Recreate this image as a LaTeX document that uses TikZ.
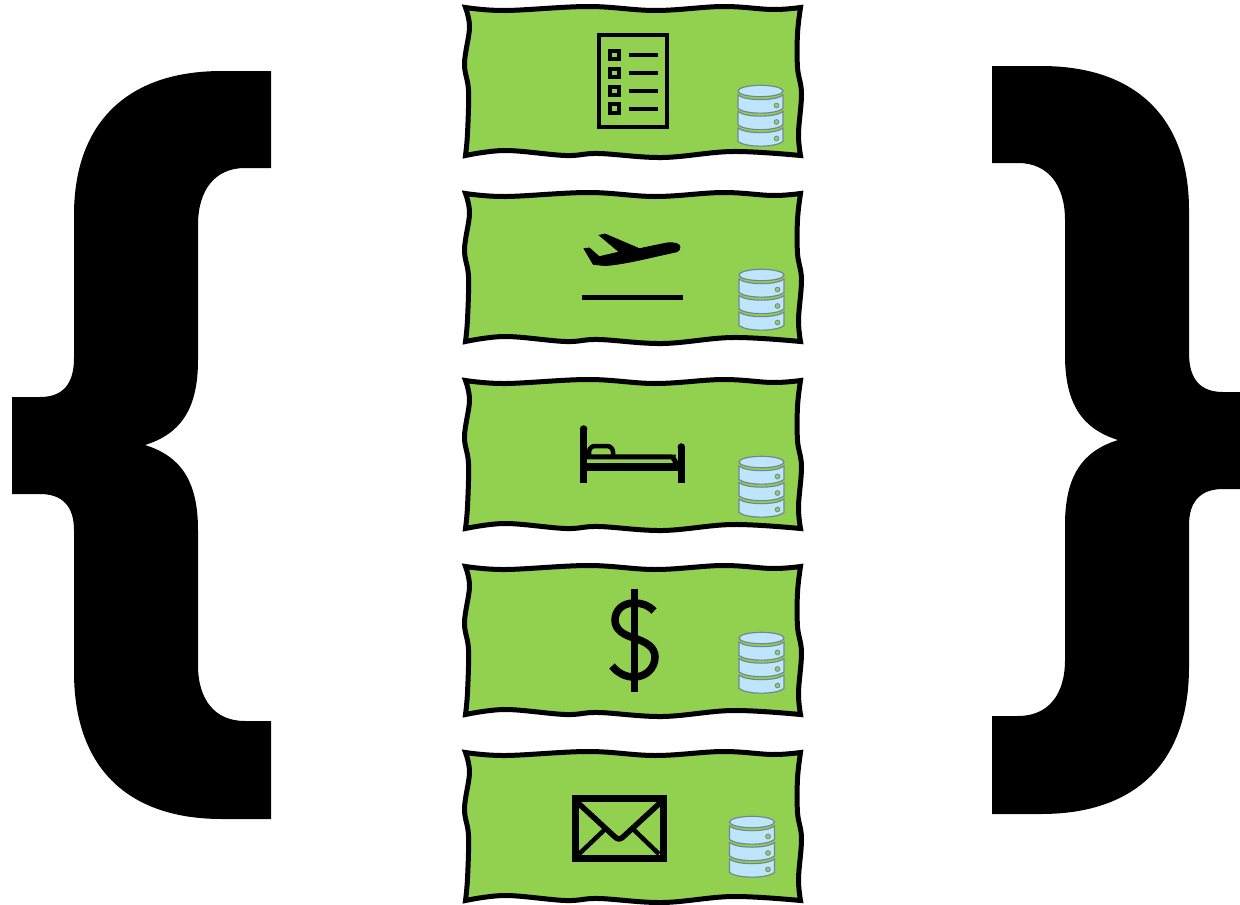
\documentclass[tikz,border=0pt]{standalone}
\usepackage{tikz}
\definecolor{boxgreen}{HTML}{92D050}
\definecolor{dbblue}{HTML}{BDE5FB}
\definecolor{dbline}{HTML}{74868F}
\tikzset{
  wavybox/.pic={
    \draw[line width=5pt,fill=boxgreen,miter limit=2]
      plot[smooth,tension=.6] coordinates {(0,0) (40,3) (123,-1) (190,3) (257,-1) (307,2) (335,0)}
      -- plot[smooth,tension=.6] coordinates {(335,0) (332,26) (332,60) (336,86) (333,126) (335,148)}
      -- plot[smooth,tension=.6] coordinates {(335,148) (267,144) (197,150) (133,146) (100,148) (40,143) (0,148)}
      -- plot[smooth,tension=.6] coordinates {(0,148) (2,126) (3,83) (-1,56) (4,20) (0,0)} -- cycle;
  },
  dbicon/.pic={
    \foreach \y in {0,16.5,33} {
      \draw[dbline,line width=1.2pt,fill=dbblue] (-22.5,10+\y) .. controls (-15,16.2+\y) and (15,16.2+\y) .. (22.5,10+\y)
        -- (22.5,23.5+\y) .. controls (15,29.7+\y) and (-15,29.7+\y) .. (-22.5,23.5+\y) -- cycle;
      \draw[dbline,line width=.8pt,fill=boxgreen] (16,20.5+\y) circle (2.4);
    }
    \draw[dbline,line width=1.2pt,fill=dbblue] (0,6) ellipse (22.5 and 5.7);
  },
  brace/.pic={
    \fill (271,71) -- (222,71) .. controls (125,71) and (74,125) .. (74,215) -- (74,358)
      .. controls (74,385) and (62,397) .. (40,397) -- (12,397) -- (12,494) -- (40,494)
      .. controls (62,494) and (74,506) .. (74,530) -- (74,672)
      .. controls (74,765) and (125,819) .. (222,819) -- (271,819) -- (271,721) -- (245,721)
      .. controls (215,721) and (198,700) .. (198,665) -- (198,530)
      .. controls (198,480) and (180,456) .. (145,445)
      .. controls (180,434) and (198,410) .. (198,360) -- (198,225)
      .. controls (198,190) and (215,168) .. (245,168) -- (271,168) -- cycle;
  }
}
\begin{document}
\begin{tikzpicture}[x=1pt,y=-1pt,iconline/.style={line width=4pt}]
\clip (0,0) rectangle (1240,905);
\pic at (0,0) {brace};
\pic[xscale=-1] at (1263,-5) {brace};
\foreach \y in {7,193,380,566,752}
  \pic at (465.5,\y+.5) {wavybox};
\pic at (760.5,85) {dbicon};
\pic at (761.5,269) {dbicon};
\pic at (761.5,456) {dbicon};
\pic at (761.5,632) {dbicon};
\pic at (752,816) {dbicon};

\draw[iconline] (598.7,34.7) rectangle (667.3,127.3);
\foreach \y in {55,73,91,108.5} {
  \draw[iconline] (610.3,\y-4.2) rectangle (618.7,\y+4.2);
  \draw[iconline] (628.7,\y) -- (657.7,\y);
}

\filldraw[line width=.8pt] (584,248.7) -- (589.3,248) -- (599.3,256.7) -- (619.3,252) -- (599.3,235.3) -- (605,234)
  -- (639.3,248.7) -- (666.7,243) .. controls (675,242) and (680,244) .. (680,247)
  .. controls (680,249) and (679,251) .. (677,251.7) -- (636.7,260.7)
  .. controls (625,263) and (612,265.5) .. (604,265.5) -- (593.3,264.3) -- cycle;
\draw[line width=5pt] (582,297.7) -- (682.7,297.7);

\draw[line width=7.5pt] (583.6,482.7) -- (583.6,429);
\fill (583.6,429) circle (3.75);
\draw[line width=7.5pt] (681.3,482.7) -- (681.3,447);
\fill (681.3,447) circle (3.75);
\draw[line width=7.5pt] (583.6,467) -- (681.3,467);
\draw[line width=5pt,rounded corners=5pt] (587,456.8) -- (668,456.8) .. controls (672,457) and (675,460) .. (677,465);
\draw[line width=4.5pt,rounded corners=6pt] (589,456) -- (589,446) -- (613,446) -- (613,456);

\draw[line width=7pt] (634,589.3) -- (634,691.7);
\draw[line width=7.5pt] (654,611) .. controls (648,605) and (642,603) .. (634,603)
  .. controls (622,603) and (615,611) .. (615,620) .. controls (615,630) and (624,635) .. (634,638)
  .. controls (646,642) and (655,647) .. (655,657) .. controls (655,668) and (646,677) .. (634,677)
  .. controls (625,677) and (618,673) .. (612,666);

\draw[line width=7pt] (575.2,798.5) rectangle (663.5,858.2);
\draw[line width=5.5pt,line join=round] (577,802) -- (615,837) .. controls (617.5,839.5) and (620.5,839.5) .. (623,837) -- (661,802);
\draw[line width=4.5pt] (579,854) -- (605,829.3);
\draw[line width=4.5pt] (659,854) -- (633.3,829.3);
\end{tikzpicture}
\end{document}
